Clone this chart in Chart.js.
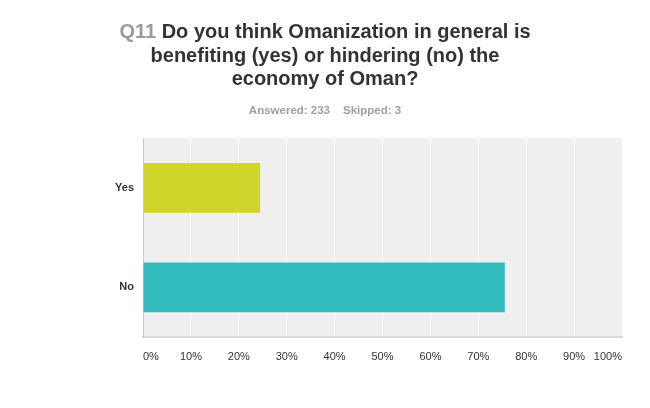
<!DOCTYPE html>
<html>
<head>
<meta charset="utf-8">
<script src="https://cdn.jsdelivr.net/npm/chart.js@4"></script>
<style>
html,body{margin:0;padding:0;background:#fff;}
#wrap{width:650px;height:408px;position:relative;}
</style>
</head>
<body>
<div id="wrap"><canvas id="c" width="650" height="408"></canvas></div>
<script>
const questionNumber = "Q11";
const titleLines = [
  "Do you think Omanization in general is",
  "benefiting (yes) or hindering (no) the",
  "economy of Oman?"
];
const answeredText = "Answered: 233";
const skippedText = "Skipped: 3";
const categories = ["Yes", "No"];
const percentages = [24.46, 75.54];
const barColors = ["#d0d52a", "#33bdbe"];
const xTickValues = [0, 10, 20, 30, 40, 50, 60, 70, 80, 90, 100];

const FONT = '"Liberation Sans", Arial, Helvetica, sans-serif';

const bgPlugin = {
  id: 'bg',
  beforeDraw(chart) {
    const {ctx, chartArea: a} = chart;
    ctx.save();
    ctx.fillStyle = '#efefef';
    ctx.fillRect(a.left, a.top, a.right - a.left, a.bottom - a.top);
    ctx.restore();
  }
};

const titlePlugin = {
  id: 'customTitle',
  afterDraw(chart) {
    const ctx = chart.ctx;
    const cx = 325;
    ctx.save();
    ctx.textBaseline = 'alphabetic';
    ctx.font = 'bold 20px ' + FONT;
    const baselines = [38, 62, 85];
    titleLines.forEach((line, i) => {
      if (i === 0) {
        const q = questionNumber + ' ';
        const wq = ctx.measureText(q).width;
        const wl = ctx.measureText(line).width;
        let x = cx - (wq + wl) / 2;
        ctx.textAlign = 'left';
        ctx.fillStyle = '#9a9a9a';
        ctx.fillText(q, x, baselines[i]);
        ctx.fillStyle = '#333333';
        ctx.fillText(line, x + wq, baselines[i]);
      } else {
        ctx.textAlign = 'center';
        ctx.fillStyle = '#333333';
        ctx.fillText(line, cx, baselines[i]);
      }
    });
    ctx.font = 'bold 11.5px ' + FONT;
    ctx.fillStyle = '#a0a0a0';
    const gap = 13;
    const w1 = ctx.measureText(answeredText).width;
    const w2 = ctx.measureText(skippedText).width;
    let x = cx - (w1 + gap + w2) / 2;
    ctx.textAlign = 'left';
    ctx.fillText(answeredText, x, 114);
    ctx.fillText(skippedText, x + w1 + gap, 114);
    ctx.restore();
  }
};

new Chart(document.getElementById('c'), {
  type: 'bar',
  data: {
    labels: categories,
    datasets: [{
      data: percentages,
      backgroundColor: barColors,
      borderWidth: 0,
      barPercentage: 0.5,
      categoryPercentage: 1.0
    }]
  },
  options: {
    indexAxis: 'y',
    responsive: false,
    animation: false,
    devicePixelRatio: 1,
    layout: { padding: { top: 138, left: 0, right: 28, bottom: 0 } },
    plugins: {
      legend: { display: false },
      title: { display: false },
      tooltip: { enabled: false }
    },
    scales: {
      x: {
        min: 0,
        max: 100,
        afterBuildTicks(scale) {
          scale.ticks = xTickValues.map(v => ({ value: v }));
        },
        afterFit(scale) { scale.height = 71; },
        grid: { color: '#ffffff', lineWidth: 1, drawTicks: false },
        border: { display: true, color: '#d9d9d9', width: 2 },
        ticks: {
          align: 'inner',
          padding: 13,
          color: '#333333',
          font: { family: FONT, size: 11 },
          callback: v => v + '%'
        }
      },
      y: {
        afterFit(scale) { scale.width = 143; },
        grid: { display: false, drawTicks: false },
        border: { display: true, color: '#cccccc', width: 1 },
        ticks: {
          padding: 9,
          color: '#333333',
          font: { family: FONT, size: 11, weight: 'bold' }
        }
      }
    }
  },
  plugins: [bgPlugin, titlePlugin]
});
</script>
</body>
</html>
